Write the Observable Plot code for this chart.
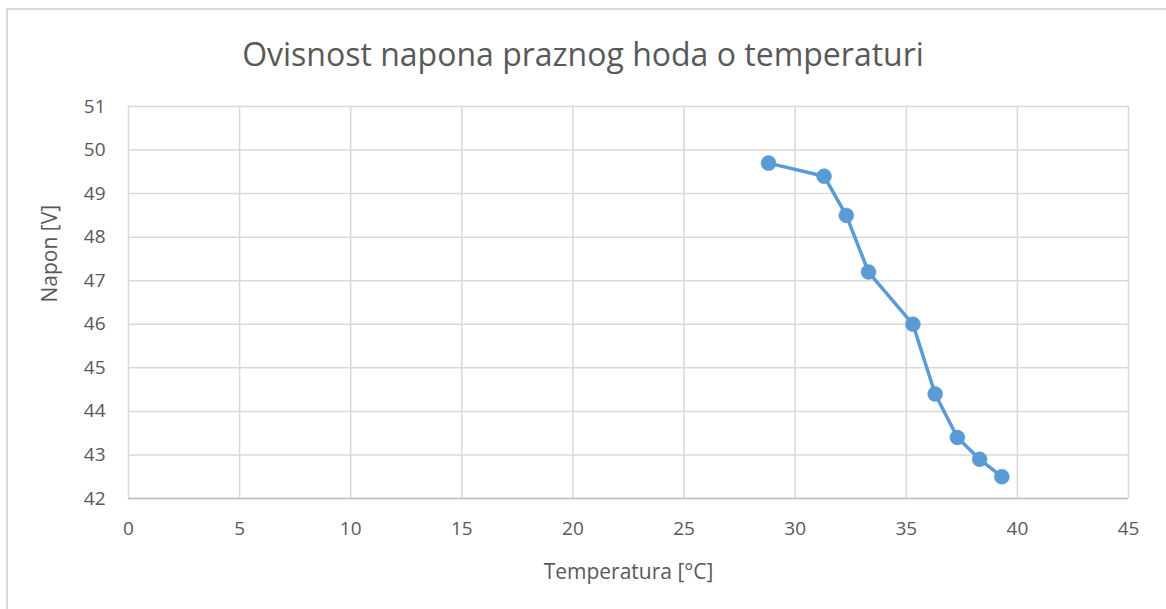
<!DOCTYPE html>
<html><head><meta charset="utf-8">
<script src="https://cdn.jsdelivr.net/npm/d3@7"></script>
<script src="https://cdn.jsdelivr.net/npm/@observablehq/plot@0.6"></script>
<style>
body{margin:0;background:#fff;}
#wrap{position:relative;width:1166px;height:609px;overflow:hidden;font-family:"Open Sans",sans-serif;background:#fff;}
#frame{position:absolute;left:6px;top:8px;width:1200px;height:700px;border-left:2px solid #d9d9d9;border-top:2px solid #d9d9d9;pointer-events:none;}
#title{height:90px;box-sizing:border-box;padding-top:34px;line-height:40px;text-align:center;font-size:32px;color:#595959;}
#chart svg{display:block;}
</style>
</head><body>
<div id="wrap">
  <div id="frame"></div>
  <div id="title">Ovisnost napona praznog hoda o temperaturi</div>
  <div id="chart"></div>
</div>
<script>
const temperature = [28.8, 31.3, 32.3, 33.3, 35.3, 36.3, 37.3, 38.3, 39.3];
const voltage = [49.7, 49.4, 48.5, 47.2, 46.0, 44.4, 43.4, 42.9, 42.5];
const xTicks = [0, 5, 10, 15, 20, 25, 30, 35, 40, 45];
const yTicks = [42, 43, 44, 45, 46, 47, 48, 49, 50, 51];
const xLabel = "Temperatura [°C]";
const yLabel = "Napon [V]";

const data = temperature.map((t, i) => ({t, v: voltage[i]}));

const chart = Plot.plot({
  width: 1166,
  height: 519,
  marginLeft: 128,
  marginRight: 38,
  marginTop: 16,
  marginBottom: 111,
  style: {fontFamily: "'Open Sans', sans-serif", fontSize: "19px", color: "#595959", background: "transparent"},
  x: {domain: [0, 45], label: null},
  y: {domain: [42, 51], label: null},
  marks: [
    Plot.gridX(xTicks, {stroke: "#d9d9d9", strokeOpacity: 1, strokeWidth: 1.5}),
    Plot.gridY(yTicks, {stroke: "#d9d9d9", strokeOpacity: 1, strokeWidth: 1.5}),
    Plot.ruleY([42], {stroke: "#bfbfbf", strokeWidth: 1.5}),
    Plot.axisX(xTicks, {tickSize: 0, tickPadding: 23, fontSize: 19, fill: "#595959", label: null}),
    Plot.axisY(yTicks, {tickSize: 0, tickPadding: 23, fontSize: 19, fill: "#595959", label: null}),
    Plot.line(data, {x: "t", y: "v", stroke: "#5b9bd5", strokeWidth: 3.5}),
    Plot.dot(data, {x: "t", y: "v", r: 7.5, fill: "#5b9bd5", stroke: "#5b9bd5", strokeWidth: 0.5}),
    Plot.text([xLabel], {frameAnchor: "bottom", dy: 74, lineAnchor: "middle", fontSize: 21, fill: "#595959", text: d => d}),
    Plot.text([yLabel], {frameAnchor: "left", dx: -78, rotate: -90, lineAnchor: "middle", fontSize: 21, fill: "#595959", text: d => d})
  ]
});
document.getElementById("chart").appendChild(chart);
</script>
</body></html>
